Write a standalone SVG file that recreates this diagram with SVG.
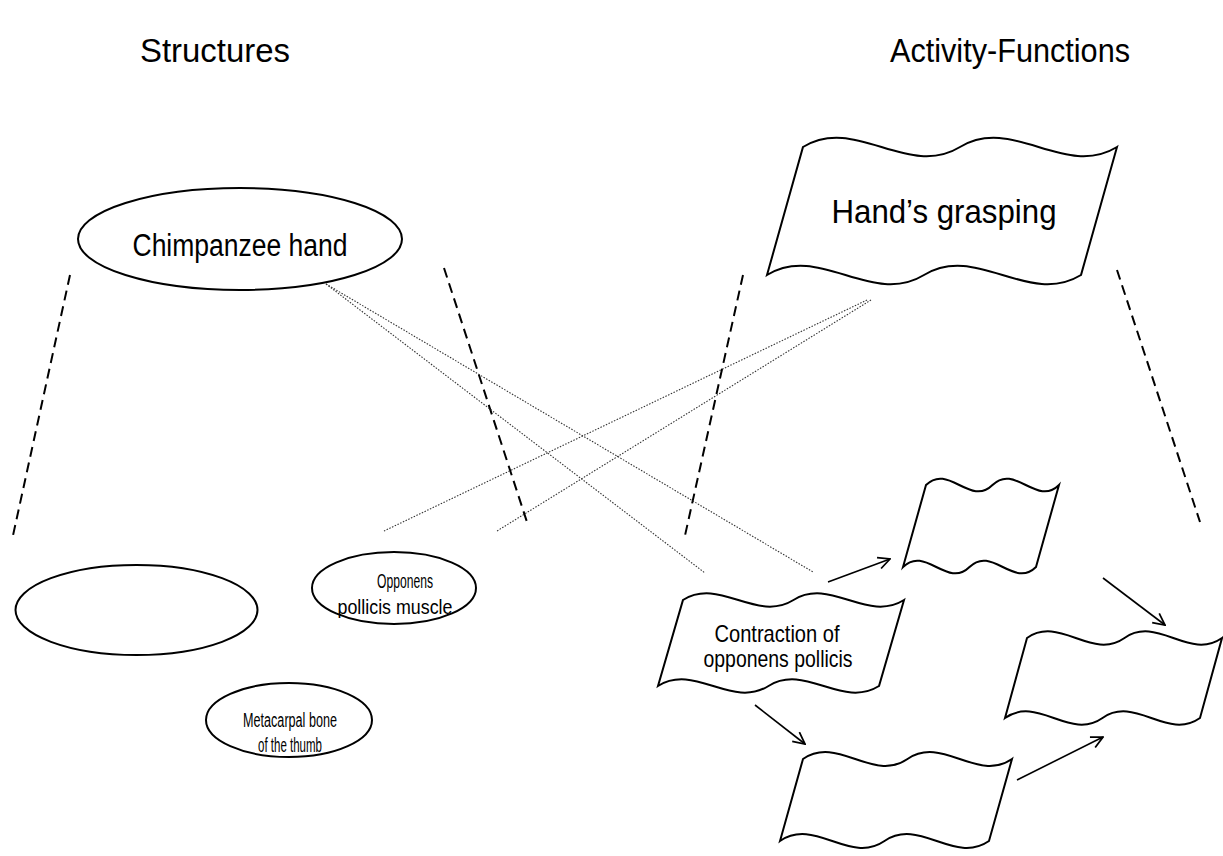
<svg xmlns="http://www.w3.org/2000/svg" width="1223" height="856" viewBox="0 0 1223 856">
<style>
  text { font-family: "Liberation Sans Narrow", "Liberation Sans", Arial, sans-serif; fill: #000; text-anchor: middle; }
  .title { font-size: 34px; }
  .shape { fill: #fff; stroke: #000; stroke-width: 2; }
  .dash { fill: none; stroke: #000; stroke-width: 2; stroke-dasharray: 10 6; }
  .dot { fill: none; stroke: #333; stroke-width: 1.1; stroke-dasharray: 1.5 1.5; }
  .arrow { fill: none; stroke: #000; stroke-width: 1.6; marker-end: url(#open); }
</style>
<defs>
  <marker id="open" viewBox="0 0 12 12" refX="11" refY="6" markerWidth="14" markerHeight="14" markerUnits="userSpaceOnUse" orient="auto">
    <path d="M1,1 L11,6 L1,11" fill="none" stroke="#000" stroke-width="1.5"/>
  </marker>
</defs>
<rect width="1223" height="856" fill="#fff"/>

<text class="title" x="215" y="62" textLength="150" lengthAdjust="spacingAndGlyphs">Structures</text>
<text class="title" x="1010" y="62" textLength="240" lengthAdjust="spacingAndGlyphs">Activity-Functions</text>

<g id="connectors">
  <line class="dash" x1="70" y1="275" x2="12" y2="540"/>
  <line class="dash" x1="444" y1="268" x2="527" y2="522"/>
  <line class="dash" x1="743" y1="275" x2="684" y2="540"/>
  <line class="dash" x1="1117" y1="270" x2="1200" y2="522"/>
  <line class="dot" x1="326" y1="284" x2="813" y2="572"/>
  <line class="dot" x1="326" y1="284" x2="705" y2="573"/>
  <line class="dot" x1="867" y1="300" x2="384" y2="531"/>
  <line class="dot" x1="871" y1="300" x2="497" y2="531"/>
  <line class="arrow" x1="828" y1="582" x2="890" y2="559"/>
  <line class="arrow" x1="1103" y1="578" x2="1165" y2="625"/>
  <line class="arrow" x1="755" y1="705" x2="805" y2="744"/>
  <line class="arrow" x1="1017" y1="780" x2="1103" y2="737"/>
</g>

<g id="chimpanzee-hand">
  <ellipse class="shape" cx="240" cy="239" rx="162" ry="51"/>
  <text x="240" y="256" font-size="31" textLength="215" lengthAdjust="spacingAndGlyphs">Chimpanzee hand</text>
</g>

<g id="empty-structure">
  <ellipse class="shape" cx="136.5" cy="610" rx="121" ry="45"/>
</g>

<g id="opponens-muscle">
  <ellipse class="shape" cx="394" cy="588" rx="82" ry="36"/>
  <text x="405" y="588" font-size="20" textLength="56" lengthAdjust="spacingAndGlyphs">Opponens</text>
  <text x="395" y="614" font-size="20" textLength="115" lengthAdjust="spacingAndGlyphs">pollicis muscle</text>
</g>

<g id="metacarpal">
  <ellipse class="shape" cx="289" cy="720" rx="83" ry="37"/>
  <text x="290" y="727" font-size="20" textLength="94" lengthAdjust="spacingAndGlyphs">Metacarpal bone</text>
  <text x="290" y="752" font-size="20" textLength="64" lengthAdjust="spacingAndGlyphs">of the thumb</text>
</g>

<g id="hands-grasping">
  <path class="shape" d="M803,147 C855.3,115 907.7,179 960,147 C1012.3,115 1064.7,179 1117,147 L1081,275 C1028.7,307 976.3,243 924,275 C871.7,307 819.3,243 767,275 Z"/>
  <text x="944" y="223" font-size="33" textLength="225" lengthAdjust="spacingAndGlyphs">Hand’s grasping</text>
</g>

<g id="contraction">
  <path class="shape" d="M683,600 C719.8,577 756.7,623 793.5,600 C830.3,577 867.2,623 904,600 L879,686 C842.2,709 805.3,663 768.5,686 C731.7,709 694.8,663 658,686 Z"/>
  <text x="777" y="642" font-size="24" textLength="125" lengthAdjust="spacingAndGlyphs">Contraction of</text>
  <text x="778" y="667" font-size="24" textLength="149" lengthAdjust="spacingAndGlyphs">opponens pollicis</text>
</g>

<g id="activity-upper">
  <path class="shape" d="M926,485 C948.2,463 970.3,507 992.5,485 C1014.7,463 1036.8,507 1059,485 L1036,567 C1013.8,589 991.7,545 969.5,567 C947.3,589 925.2,545 903,567 Z"/>
</g>

<g id="activity-right">
  <path class="shape" d="M1027,638 C1059.5,615 1092,661 1124.5,638 C1157,615 1189.5,661 1222,638 L1200,718 C1167.5,741 1135,695 1102.5,718 C1070,741 1037.5,695 1005,718 Z"/>
</g>

<g id="activity-lower">
  <path class="shape" d="M803,759 C837.8,735 872.7,783 907.5,759 C942.3,735 977.2,783 1012,759 L989,841 C954.2,865 919.3,817 884.5,841 C849.7,865 814.8,817 780,841 Z"/>
</g>
</svg>
